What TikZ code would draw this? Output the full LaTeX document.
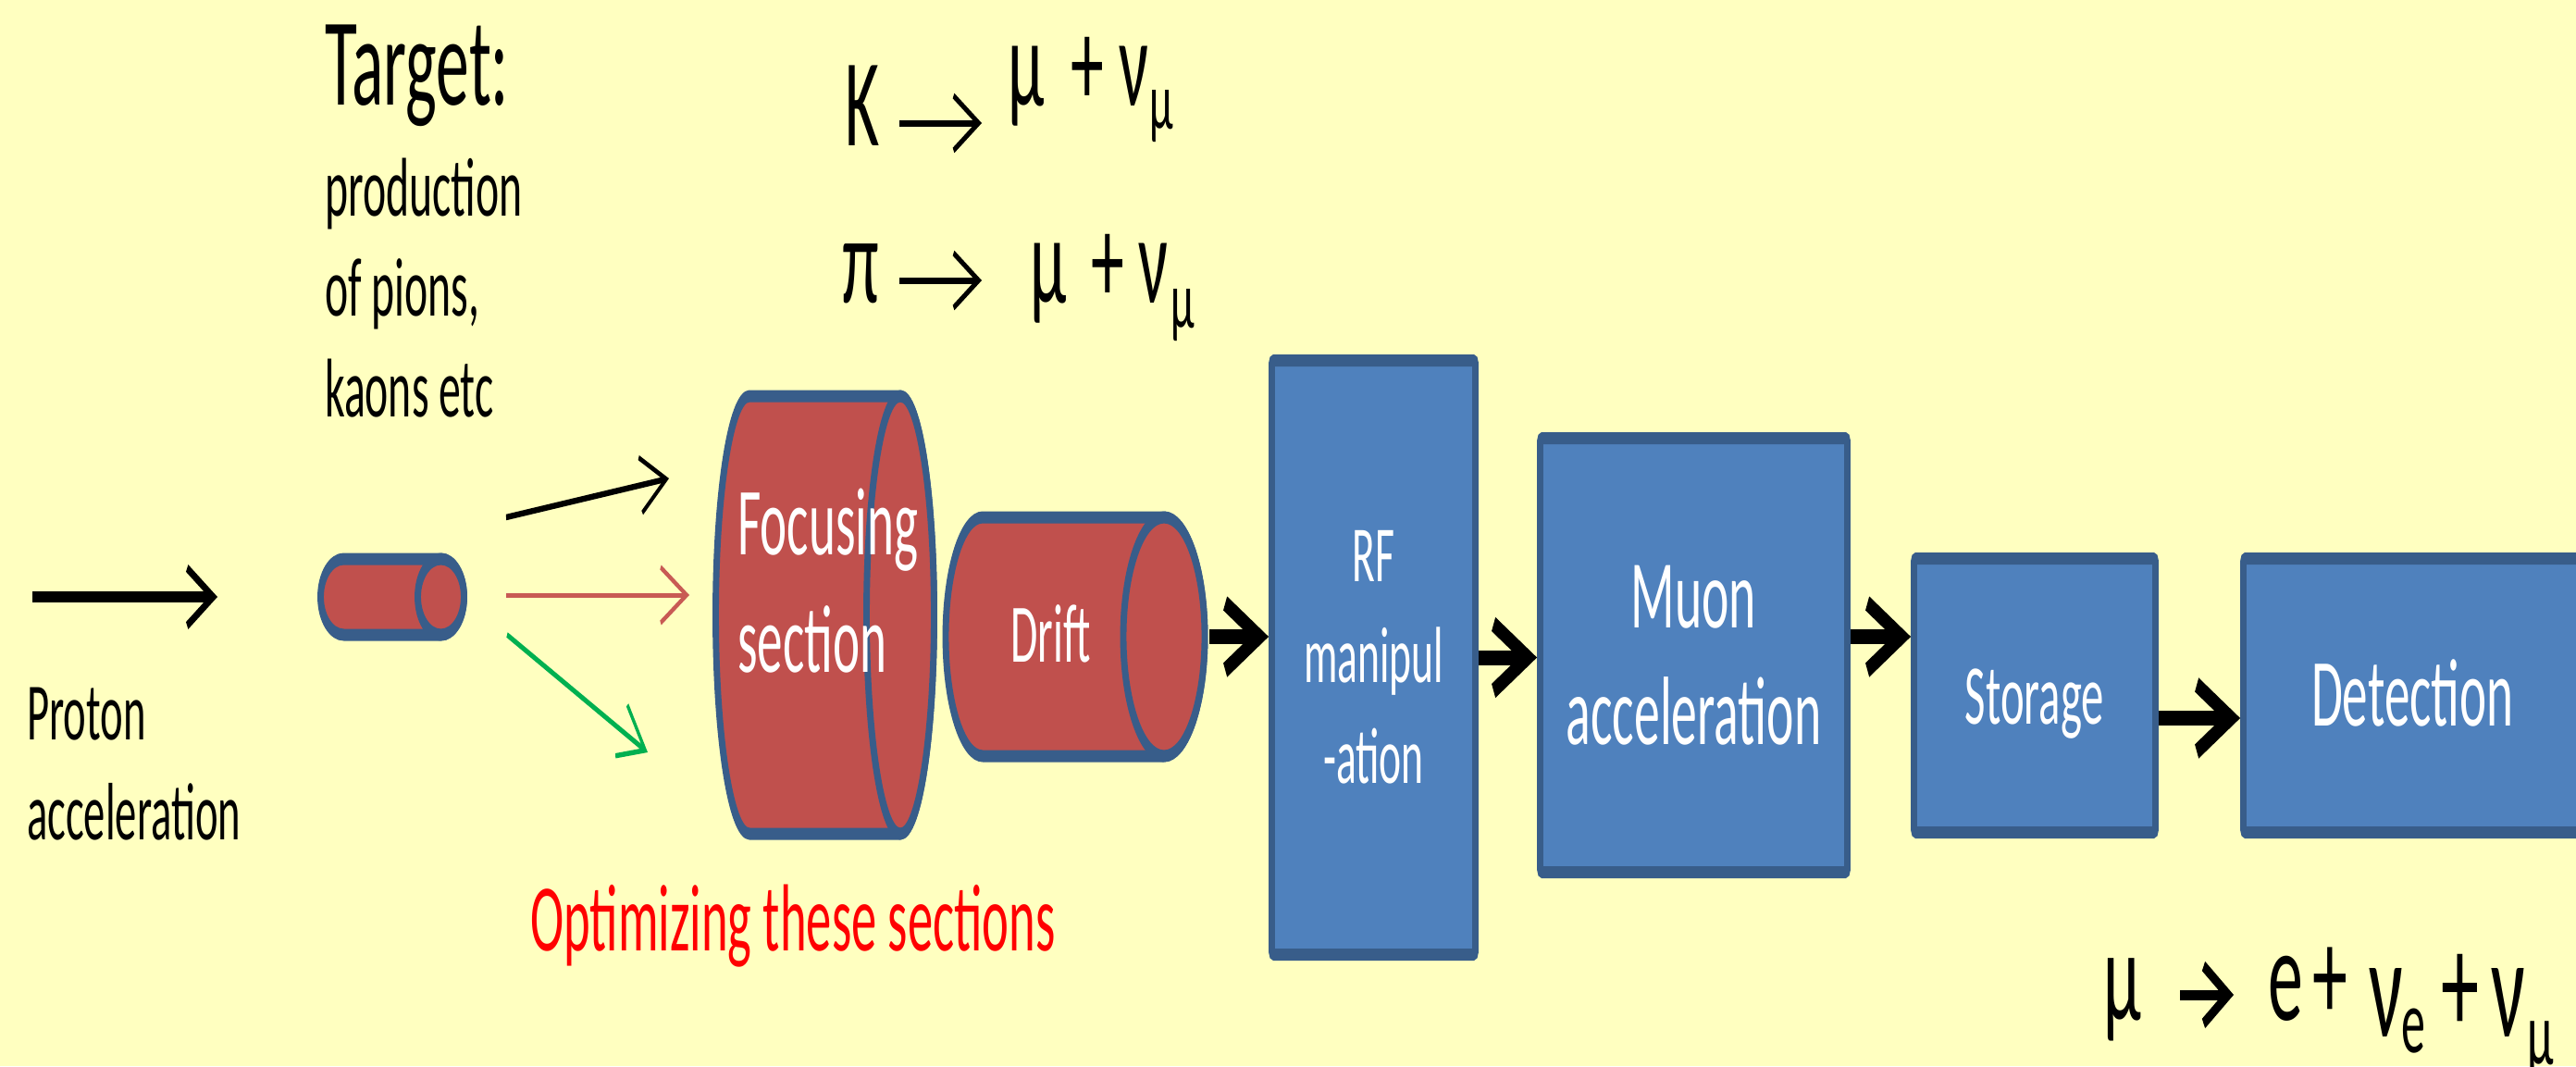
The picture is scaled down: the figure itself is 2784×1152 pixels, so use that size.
\documentclass[tikz,border=0pt]{standalone}
\usepackage{fontspec}
\setmainfont{Carlito}
\usetikzlibrary{arrows.meta}
\definecolor{bg}{RGB}{255,255,192}
\definecolor{cylred}{RGB}{192,80,77}
\definecolor{edgeblue}{RGB}{56,93,138}
\definecolor{boxblue}{RGB}{79,129,189}
\definecolor{grn}{RGB}{0,176,80}
\definecolor{arrred}{RGB}{200,90,84}
\newcommand\fsz[1]{\fontsize{#1}{#1}\selectfont}
\begin{document}
\begin{tikzpicture}[x=1pt,y=-1pt]
\fill[bg] (0,0) rectangle (2784,1152);
\useasboundingbox (0,0) rectangle (2784,1152);
\begin{scope}[transform canvas={xscale=0.53}, x=1.886792pt, y=-1pt,
  txt/.style={inner sep=0pt, anchor=base west},
  box/.style={draw=edgeblue, fill=boxblue, line width=13pt, rounded corners=4pt, text=white, align=center, inner sep=0pt},
  cyl/.style={draw=edgeblue, fill=cylred, line width=13pt, line join=round},
  thinarr/.style={line width=5pt, -{Straight Barb[length=53pt,width=60pt,line width=5.5pt]}},
  bigarr/.style={line width=16pt, -{Straight Barb[length=70pt,width=72pt,line width=17pt]}},
  fmlarr/.style={line width=7pt, -{Straight Barb[length=51pt,width=59pt,line width=6.5pt]}}
]
% texts on the left
\node[txt, font=\fsz{135}] (target) at (351,113) {Target:};
\node[txt, font=\fsz{90}] (prod1) at (351,233) {production};
\node[txt, font=\fsz{90}] (prod2) at (351,341) {of pions,};
\node[txt, font=\fsz{90}] (prod3) at (351,450) {kaons etc};
\node[txt, font=\fsz{88}] (prot1) at (29,799) {Proton};
\node[txt, font=\fsz{88}] (prot2) at (29,907) {acceleration};
% decay formulas
\node[txt, font=\fsz{135}] (kK) at (913,157) {K};
\coordinate (kA1) at (972,133); \coordinate (kA2) at (1061,133);
\draw[fmlarr] (kA1) -- (kA2);
\node[txt, font=\fsz{135}] (kmu) at (1089,114) {μ};
\node[txt, font=\fsz{135}] (kplus) at (1157,114) {+};
\node[txt, font=\fsz{135}] (knu) at (1209,114) {ν};
\node[txt, font=\fsz{88}] (knus) at (1242,139) {μ};
\node[txt, font=\fsz{135}] (pP) at (910,327) {π};
\coordinate (pA1) at (972,303); \coordinate (pA2) at (1061,303);
\draw[fmlarr] (pA1) -- (pA2);
\node[txt, font=\fsz{135}] (pmu) at (1113,327) {μ};
\node[txt, font=\fsz{135}] (pplus) at (1179,327) {+};
\node[txt, font=\fsz{135}] (pnu) at (1230,327) {ν};
\node[txt, font=\fsz{88}] (pnus) at (1265,354) {μ};
% proton arrow
\coordinate (pr1) at (35,645); \coordinate (pr2) at (235,645);
\draw[line width=12pt, -{Straight Barb[length=53pt,width=62pt,line width=9pt]}] (pr1) -- (pr2);
% target cylinder
\draw[cyl] (476.5,604) -- (371.5,604) arc[start angle=270,end angle=90,x radius=25,y radius=41] -- (476.5,686) arc[start angle=90,end angle=-90,x radius=25,y radius=41] -- cycle;
\draw[cyl] (476.5,645) ellipse[x radius=25,y radius=41];
% scattered arrows
\coordinate (s1) at (547,559); \coordinate (e1) at (723,517);
\coordinate (s2) at (547,643); \coordinate (e2) at (745,643);
\coordinate (s3) at (548,686); \coordinate (e3) at (700,813);
\draw[thinarr, black, line width=6.5pt] (s1) -- (e1);
\draw[thinarr, arrred] (s2) -- (e2);
\draw[thinarr, grn, line width=6pt] (s3) -- (e3);
% focusing cylinder
\draw[cyl] (973,428) -- (810,428) arc[start angle=270,end angle=90,x radius=36.5,y radius=236.5] -- (973,901) arc[start angle=90,end angle=-90,x radius=36.5,y radius=236.5] -- cycle;
\draw[cyl] (973,664.5) ellipse[x radius=36.5,y radius=236.5];
% drift cylinder
\draw[cyl] (1258,559) -- (1062,559) arc[start angle=270,end angle=90,x radius=40,y radius=129] -- (1258,817) arc[start angle=90,end angle=-90,x radius=44,y radius=129] -- cycle;
\draw[cyl] (1258,688) ellipse[x radius=44,y radius=129];
\node[txt, font=\fsz{104}, text=white] (foc1) at (797,599) {Focusing};
\node[txt, font=\fsz{104}, text=white] (foc2) at (797,726) {section};
\node[txt, font=\fsz{90}, text=white] (drift) at (1092,715) {Drift};
% boxes
\node[box, font=\fsz{86}, minimum width=415.1pt, minimum height=642pt] (rf) at (1484.5,710.5) {RF\\[23pt]manipul\\[23pt]-ation};
\node[box, font=\fsz{105}, minimum width=626.4pt, minimum height=469pt] (muon) at (1830.5,708) {Muon\\[21pt]acceleration};
\node[box, font=\fsz{92}, minimum width=492.5pt, minimum height=296pt, text height=61pt, text depth=0pt] (storage) at (2199,751.5) {Storage};
\node[box, font=\fsz{104}, minimum width=689.6pt, minimum height=296pt, text height=65pt, text depth=0pt] (det) at (2607.25,751.5) {Detection};
% connecting arrows
\coordinate (driftR) at (1307,688);
\coordinate (sd) at (2333,776);
\draw[bigarr] (driftR) -- (rf.west |- driftR);
\draw[bigarr] (rf.east) -- (rf.east -| muon.west);
\draw[bigarr] (muon.east |- driftR) -- (storage.west |- driftR);
\draw[bigarr] (storage.east |- sd) -- (det.west |- sd);
% red label
\node[txt, font=\fsz{103}, text=red] (opt) at (573,1027) {Optimizing these sections};
% muon decay
\node[txt, font=\fsz{140}] (mmu) at (2273,1102) {μ};
\coordinate (mA1) at (2356,1075); \coordinate (mA2) at (2414,1075);
\draw[line width=11pt, -{Straight Barb[length=50pt,width=62pt,line width=12pt]}] (mA1) -- (mA2);
\node[txt, font=\fsz{143}] (me) at (2451,1102) {e};
\node[txt, font=\fsz{143}] (mplus1) at (2499,1102) {+};
\node[txt, font=\fsz{155}] (mnu1) at (2560,1120) {ν};
\node[txt, font=\fsz{98}] (mnu1s) at (2595,1137) {e};
\node[txt, font=\fsz{155}] (mplus2) at (2638,1116) {+};
\node[txt, font=\fsz{155}] (mnu2) at (2692,1120) {ν};
\node[txt, font=\fsz{98}] (mnu2s) at (2731,1150) {μ};
\end{scope}
\end{tikzpicture}
\end{document}
